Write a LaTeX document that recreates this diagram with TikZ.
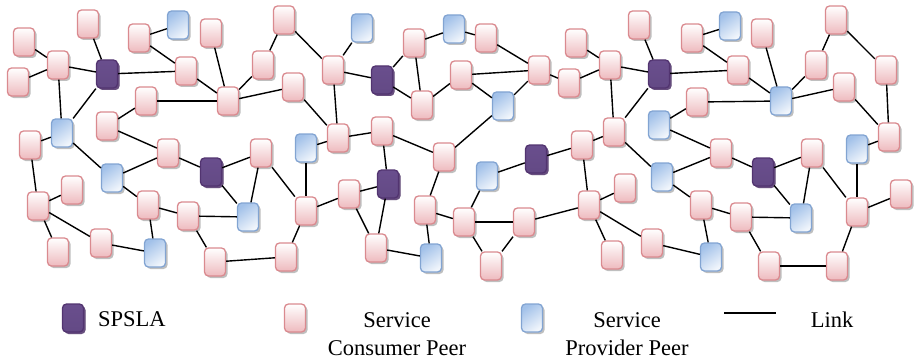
\documentclass[tikz,border=0pt]{standalone}
\usepackage{fontspec}
\setmainfont{Liberation Serif}
\usetikzlibrary{shadows}

\definecolor{pinkline}{RGB}{218,138,143}
\definecolor{pinkfill}{RGB}{238,186,190}
\definecolor{blueline}{RGB}{130,164,210}
\definecolor{bluefill}{RGB}{162,193,233}
\definecolor{purpfill}{RGB}{124,92,166}
\definecolor{purpline}{RGB}{82,52,112}

\begin{document}
\begin{tikzpicture}[x=1pt,y=-1pt,
  peer/.style={rectangle, rounded corners=4pt, minimum width=21pt,
    minimum height=28pt, inner sep=0pt, line width=1.3pt,
    drop shadow={shadow xshift=2pt, shadow yshift=-2pt, fill=black, opacity=0.25}},
  cons/.style={peer, draw=pinkline, top color=white, bottom color=pinkfill},
  prov/.style={peer, draw=blueline, top color=bluefill, bottom color=white!85!bluefill, shading angle=35},
  spsla/.style={peer, draw=purpline, top color=purpfill!85!black,
    middle color=purpfill!75!white, bottom color=purpfill!80!black,
    drop shadow={shadow xshift=2pt, shadow yshift=-2pt, fill=purpline, opacity=0.8}},
  link/.style={line width=1.4pt, black},
  legtext/.style={inner sep=0pt, font=\fontsize{22.5}{28}\selectfont}
]
\useasboundingbox (0,0) rectangle (916,361);

% service consumer peers
\foreach \n/\x/\y in {
  p1/24/42, p2/88/24, p3/18/82, p4/58/65, p5/139/38, p6/211/33, p7/186/71,
  p8/228/101, p9/146/101, p10/107/126, p11/30/145, p12/168/153, p13/38/206,
  p14/72/190, p15/148/205, p16/188/216, p17/58/252, p18/101/243, p19/215/262,
  p20/261/153, p22/284/20, p23/263/65, p24/293/87, p25/333/70, p26/414/43,
  p27/422/105, p28/461/75, p29/338/138, p30/382/131, p32/444/157, p33/486/38,
  p34/539/70, p35/569/83, p36/576/43, p37/610/65, p38/639/25, p39/614/132,
  p40/582/145, p42/738/70, p43/692/38, p44/762/33, p45/697/102, p46/816/65,
  p47/836/20, p48/844/87, p49/886/70, p50/889/137, p52/812/153, p54/589/205,
  p55/625/188, p56/464/222, p57/524/222, p58/491/266, p59/612/255, p60/652/243,
  p61/425/210, p62/306/211, p63/349/194, p65/376/248, p66/286/257, p67/721/153,
  p68/901/194, p69/857/212, p70/701/205, p71/741/217, p72/769/266, p73/837/266}
  \node[cons] (\n) at (\x,\y) {};

% service provider peers
\foreach \n/\x/\y in {
  b1/178/25, b2/62/133, b3/112/178, b4/248/217, b5/155/253, b6/362/28,
  b7/454/29, b8/306/148, b9/503/106, b10/659/125, b11/730/26, b12/781/101,
  b13/857/149, b14/487/176, b15/662/177, b16/431/258, b17/801/218, b18/711/257}
  \node[prov] (\n) at (\x,\y) {};

% SPSLA nodes
\foreach \n/\x/\y in {
  s1/107/74, s2/211/172, s3/382/80, s4/659/74, s5/536/159, s6/388/184, s7/763/172}
  \node[spsla] (\n) at (\x,\y) {};

% links between peers
\foreach \a/\b in {
  p1/p4, p3/p4, p4/s1, p4/b2, s1/p2, s1/p7, s1/b2, p5/b1, p5/p7, p7/p8, p6/p8,
  p9/p8, p9/p10, p10/p12, b2/p11, b2/b3, b3/p12, p12/s2, s2/p20, s2/b4,
  p11/p13, p13/p14, p13/p17, p13/p18, p18/b5, b3/p15, p15/b5, p15/p16,
  p16/b4, p16/p19, p19/p66,
  p22/p23, p8/p23, p22/p25, p8/p24, p24/p29, p25/b6, p25/s3, p25/p29,
  s3/p26, s3/p27, p26/b7, p26/p27, p27/p28, p29/p30, p30/p32, p29/b8,
  b7/p33, p33/p34, p28/p34, p28/b9, b9/p34, b9/p32, p34/p35, p35/p37,
  p36/p37, p37/s4, p38/s4, s4/p39, p37/p39, p39/p40, s4/p42,
  p43/b11, p43/p42, p42/b12, p44/b12, b12/p46, b12/p48, p46/p47, p47/p49,
  p49/p50, p48/p50, p45/b12, b10/p45, b13/p50,
  b14/s5, s5/p40, p40/p54, p54/p55, p54/p57, p54/p59, p54/p60, p57/p56,
  p57/p58, b14/p56, p56/p58, p61/p56, p39/b15,
  p20/b4, p20/p62, b8/p62, p30/s6, p32/p61, p61/b16, p62/p63, p63/s6,
  p63/p65, s6/p65, p65/b16, p62/p66,
  b10/p67, b15/p67, p67/s7, s7/p52, s7/b17, p52/b17, p52/p69, b13/p69,
  p69/p68, p69/p73, p72/p73, p71/p72, p70/p71, p71/b17, p70/b18, b15/p70,
  p60/b18}
  \draw[link] (\a) -- (\b);

% legend
\node[spsla] (lgS) at (73,318) {};
\node[legtext, anchor=west] (lgSt) at (98,319.5) {SPSLA};
\node[cons] (lgC) at (295,318) {};
\node[legtext, align=center] (lgCt) at (397,334) {Service\\Consumer Peer};
\node[prov] (lgP) at (532,318) {};
\node[legtext, align=center] (lgPt) at (627,334) {Service\\Provider Peer};
\coordinate (lgL1) at (724,313);
\coordinate (lgL2) at (776,313);
\draw[link] (lgL1) -- (lgL2);
\node[legtext] (lgLt) at (832,319.5) {Link};
\end{tikzpicture}
\end{document}
